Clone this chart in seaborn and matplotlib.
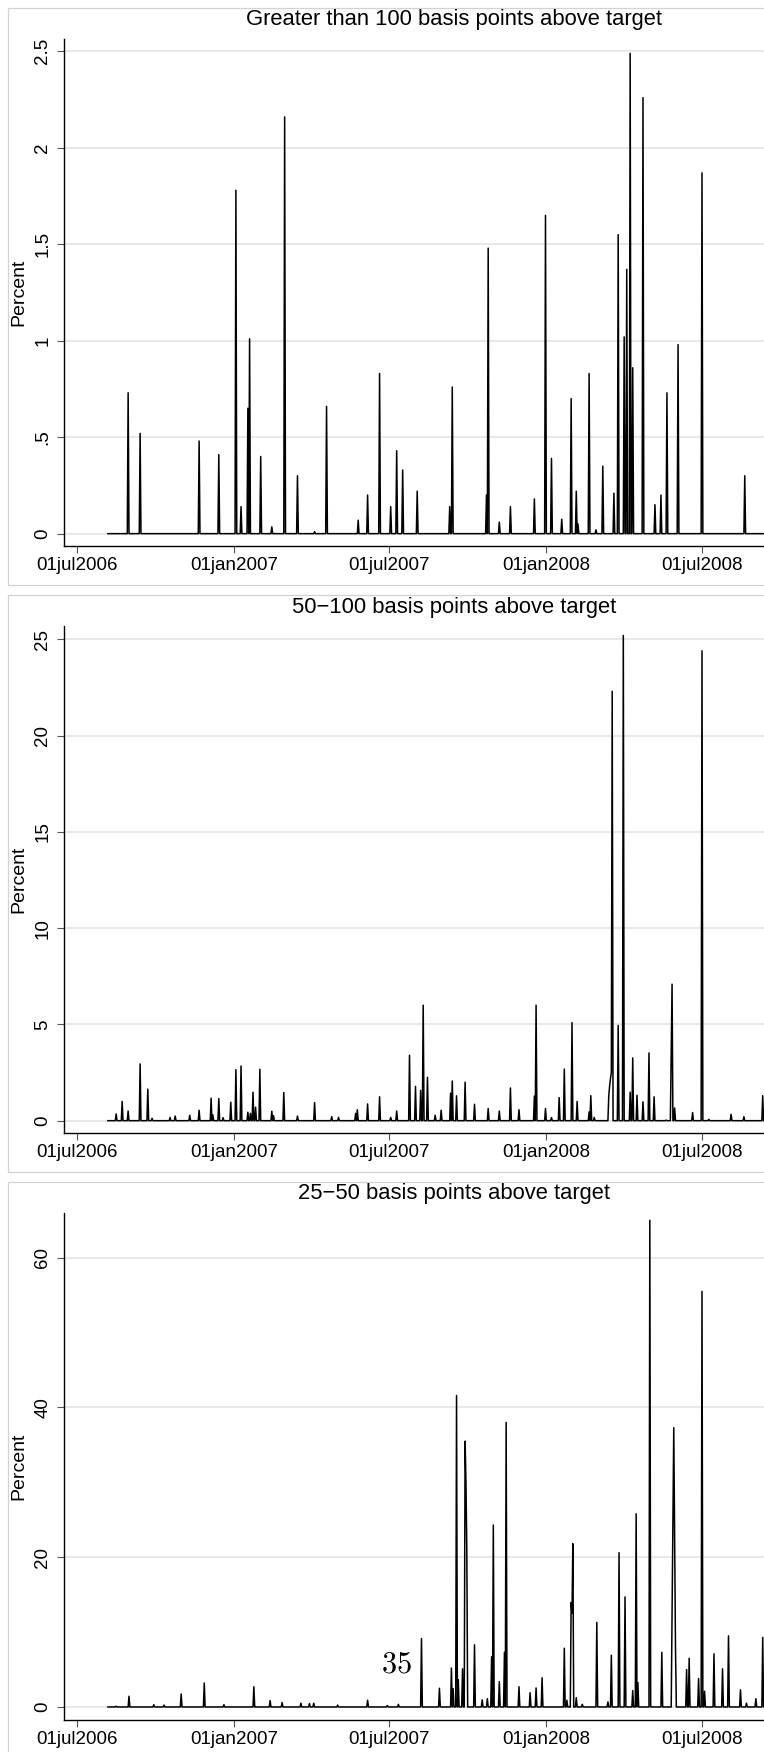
import pandas as pd
import matplotlib
matplotlib.use("Agg")
import matplotlib.pyplot as plt
import matplotlib.dates as mdates
import matplotlib.ticker as mticker
from matplotlib.patches import Rectangle
import seaborn as sns

# daily series: zero except on the days listed per panel
series_start = "2006-08-06"
series_end = "2008-09-30"

titles = [
    "Greater than 100 basis points above target",
    "50\u2212100 basis points above target",
    "25\u221250 basis points above target",
]

date_ticks = ["2006-07-01", "2007-01-01", "2007-07-01", "2008-01-01", "2008-07-01"]

gt100_ticks = [0, 0.5, 1, 1.5, 2, 2.5]
gt100_tick_labels = ["0", ".5", "1", "1.5", "2", "2.5"]
bp50_ticks = [0, 5, 10, 15, 20, 25]
bp50_tick_labels = ["0", "5", "10", "15", "20", "25"]
bp25_ticks = [0, 20, 40, 60]
bp25_tick_labels = ["0", "20", "40", "60"]

gt100_dates = [
    "2006-08-30", "2006-09-13", "2006-11-21", "2006-12-14", "2007-01-03",
    "2007-01-09", "2007-01-17", "2007-01-19", "2007-02-01", "2007-02-14",
    "2007-03-01", "2007-03-16", "2007-04-05", "2007-04-19", "2007-05-26",
    "2007-06-06", "2007-06-20", "2007-07-03", "2007-07-10", "2007-07-17",
    "2007-08-03", "2007-09-10", "2007-09-13", "2007-10-23", "2007-10-25",
    "2007-11-07", "2007-11-20", "2007-12-18", "2007-12-31", "2008-01-07",
    "2008-01-19", "2008-01-30", "2008-02-05", "2008-02-07", "2008-02-20",
    "2008-02-28", "2008-03-07", "2008-03-20", "2008-03-25", "2008-04-01",
    "2008-04-04", "2008-04-08", "2008-04-11", "2008-04-23", "2008-05-07",
    "2008-05-14", "2008-05-21", "2008-06-03", "2008-07-01", "2008-08-20",
]
gt100_values = [
    0.73, 0.52, 0.48, 0.41, 1.78,
    0.14, 0.65, 1.01, 0.40, 0.035,
    2.16, 0.30, 0.01, 0.66, 0.07,
    0.20, 0.83, 0.14, 0.43, 0.33,
    0.22, 0.14, 0.76, 0.20, 1.48,
    0.06, 0.14, 0.18, 1.65, 0.39,
    0.075, 0.70, 0.22, 0.05, 0.83,
    0.02, 0.35, 0.21, 1.55, 1.02,
    1.37, 2.49, 0.86, 2.26, 0.15,
    0.20, 0.73, 0.98, 1.87, 0.30,
]

bp50_dates = [
    "2006-08-16", "2006-08-23", "2006-08-30", "2006-09-13", "2006-09-22",
    "2006-09-27", "2006-10-18", "2006-10-24", "2006-11-10", "2006-11-21",
    "2006-12-05", "2006-12-07", "2006-12-14", "2006-12-19", "2006-12-28",
    "2007-01-03", "2007-01-09", "2007-01-17", "2007-01-20", "2007-01-23",
    "2007-01-26", "2007-01-31", "2007-02-14", "2007-02-16", "2007-02-28",
    "2007-03-16", "2007-04-05", "2007-04-25", "2007-05-03", "2007-05-23",
    "2007-05-25", "2007-06-06", "2007-06-20", "2007-07-03", "2007-07-10",
    "2007-07-25", "2007-08-01", "2007-08-07", "2007-08-10", "2007-08-15",
    "2007-08-24", "2007-08-31", "2007-09-11", "2007-09-13", "2007-09-18",
    "2007-09-28", "2007-10-09", "2007-10-25", "2007-11-07", "2007-11-20",
    "2007-11-30", "2007-12-18", "2007-12-20", "2007-12-31", "2008-01-07",
    "2008-01-16", "2008-01-22", "2008-01-31", "2008-02-06", "2008-02-20",
    "2008-02-22", "2008-02-26", "2008-03-14", "2008-03-15", "2008-03-16",
    "2008-03-17", "2008-03-18", "2008-03-25", "2008-03-31", "2008-04-08",
    "2008-04-11", "2008-04-16", "2008-04-23", "2008-04-30", "2008-05-06",
    "2008-05-20", "2008-05-26", "2008-05-27", "2008-05-30", "2008-06-20",
    "2008-07-01", "2008-07-09", "2008-08-04", "2008-08-19", "2008-09-10",
]
bp50_values = [
    0.35, 1.0, 0.5, 2.95, 1.64,
    0.12, 0.17, 0.24, 0.28, 0.54,
    1.17, 0.30, 1.15, 0.16, 0.96,
    2.65, 2.84, 0.44, 0.38, 1.48,
    0.70, 2.67, 0.49, 0.26, 1.46,
    0.24, 0.94, 0.21, 0.17, 0.38,
    0.57, 0.87, 1.24, 0.17, 0.50,
    3.40, 1.78, 1.57, 6.00, 2.25,
    0.28, 0.54, 1.43, 2.06, 1.29,
    2.00, 0.85, 0.63, 0.50, 1.70,
    0.57, 1.27, 6.00, 0.63, 0.16,
    1.20, 2.68, 5.09, 1.00, 0.45,
    1.30, 0.17, 1.30, 1.80, 2.20,
    2.50, 22.30, 4.95, 25.20, 1.48,
    3.26, 1.32, 0.98, 3.52, 1.24,
    0.03, 3.50, 7.09, 0.66, 0.42,
    24.40, 0.07, 0.33, 0.21, 1.30,
]

bp25_dates = [
    "2006-08-16", "2006-08-31", "2006-09-29", "2006-10-11", "2006-10-31",
    "2006-11-27", "2006-12-20", "2007-01-24", "2007-02-12", "2007-02-26",
    "2007-03-20", "2007-03-30", "2007-04-04", "2007-05-02", "2007-06-06",
    "2007-06-29", "2007-07-12", "2007-08-08", "2007-08-29", "2007-09-12",
    "2007-09-14", "2007-09-18", "2007-09-20", "2007-09-25", "2007-09-28",
    "2007-09-29", "2007-09-30", "2007-10-09", "2007-10-18", "2007-10-24",
    "2007-10-29", "2007-10-31", "2007-11-07", "2007-11-13", "2007-11-15",
    "2007-11-30", "2007-12-13", "2007-12-20", "2007-12-27", "2008-01-22",
    "2008-01-25", "2008-01-30", "2008-01-31", "2008-02-01", "2008-02-05",
    "2008-02-12", "2008-02-29", "2008-03-13", "2008-03-17", "2008-03-26",
    "2008-04-02", "2008-04-11", "2008-04-15", "2008-04-17", "2008-05-01",
    "2008-05-15", "2008-05-27", "2008-05-28", "2008-05-29", "2008-05-30",
    "2008-05-31", "2008-06-13", "2008-06-16", "2008-06-27", "2008-07-01",
    "2008-07-04", "2008-07-15", "2008-07-25", "2008-08-01", "2008-08-15",
    "2008-08-22", "2008-09-02", "2008-09-10",
]
bp25_values = [
    0.10, 1.43, 0.30, 0.25, 1.74,
    3.20, 0.30, 2.70, 0.85, 0.60,
    0.50, 0.45, 0.50, 0.25, 0.90,
    0.20, 0.35, 9.14, 2.50, 5.20,
    2.45, 41.60, 3.65, 5.10, 35.50,
    30.00, 21.00, 8.30, 0.94, 1.10,
    6.70, 24.30, 3.40, 7.30, 38.00,
    2.70, 1.90, 2.54, 3.90, 7.85,
    0.90, 13.95, 12.50, 21.80, 1.25,
    0.35, 11.30, 0.67, 6.90, 20.60,
    14.70, 2.20, 25.80, 3.25, 65.00,
    7.30, 12.00, 25.00, 37.30, 22.00,
    8.00, 5.00, 6.50, 3.80, 55.50,
    2.10, 7.10, 5.10, 9.50, 2.30,
    0.50, 1.10, 9.30,
]


def daily_frame(dates, values):
    days = pd.date_range(series_start, series_end, freq="D")
    s = pd.Series(0.0, index=days)
    s[pd.to_datetime(dates)] = values
    return s.rename_axis("date").reset_index(name="percent")


def date_label(x, pos):
    return mdates.num2date(x).strftime("%d%b%Y").lower()


sns.set_theme(style="ticks")
plt.rcParams["font.family"] = ["Liberation Sans", "DejaVu Sans"]
plt.rcParams["text.color"] = "black"
plt.rcParams["axes.labelcolor"] = "black"

W, H = 764, 1752
fig = plt.figure(figsize=(W / 100, H / 100), dpi=100)

panels = [
    (titles[0], daily_frame(gt100_dates, gt100_values), gt100_ticks, gt100_tick_labels, (-0.064, 2.564)),
    (titles[1], daily_frame(bp50_dates, bp50_values), bp50_ticks, bp50_tick_labels, (-0.64, 25.69)),
    (titles[2], daily_frame(bp25_dates, bp25_values), bp25_ticks, bp25_tick_labels, (-1.74, 65.97)),
]

step = 587  # panel pitch in pixels
for i, (title, df, yticks, ylabels, ylim) in enumerate(panels):
    off = i * step
    # gray outline of the graph region (cropped on the right)
    box_top, box_bot = 8 + off, 585 + off
    fig.add_artist(Rectangle((7.5 / W, 1 - box_bot / H), 2.0, (box_bot - box_top) / H,
                             transform=fig.transFigure, fill=False,
                             edgecolor="#d2d2d2", lw=0.9))
    fig.text(454 / W, 1 - (20 + off) / H, title, ha="center", va="center", fontsize=15.8)

    ax_top, ax_bot = 39 + off, 546 + off
    ax = fig.add_axes([64 / W, 1 - ax_bot / H, 1 - 64 / W, (ax_bot - ax_top) / H])
    sns.lineplot(data=df, x="date", y="percent", ax=ax, color="black",
                 lw=1.1, estimator=None, zorder=3)

    ax.set_xlim(pd.Timestamp("2006-06-16"), pd.Timestamp("2008-09-11 12:00"))
    ax.set_ylim(*ylim)
    ax.xaxis.set_major_locator(mticker.FixedLocator(mdates.date2num(pd.to_datetime(date_ticks))))
    ax.xaxis.set_major_formatter(mticker.FuncFormatter(date_label))
    ax.yaxis.set_major_locator(mticker.FixedLocator(yticks))
    ax.yaxis.set_major_formatter(mticker.FixedFormatter(ylabels))

    ax.yaxis.grid(True, color="#e6e6e6", lw=1.3)
    ax.set_axisbelow(True)
    sns.despine(ax=ax)
    for side in ["left", "bottom"]:
        ax.spines[side].set_linewidth(1.0)
        ax.spines[side].set_color("black")

    ax.tick_params(axis="both", direction="out", length=5, width=0.8,
                   color="#555555", labelcolor="black", labelsize=13.5)
    ax.tick_params(axis="x", pad=3)
    ax.tick_params(axis="y", pad=4)
    plt.setp(ax.get_yticklabels(), rotation=90, va="center", ha="right")

    ax.set_xlabel("")
    ax.set_ylabel("Percent", fontsize=14)
    ax.yaxis.set_label_coords(-45.5 / 700, 0.5)
    ax.yaxis.label.set_verticalalignment("center")

# page number overlaid on the last panel
fig.text(397 / W, 1 - 1664.5 / H, r"$35$", ha="center", va="center",
         fontsize=22, math_fontfamily="cm", zorder=5)

fig.savefig("out.png", dpi=100, facecolor="white")
